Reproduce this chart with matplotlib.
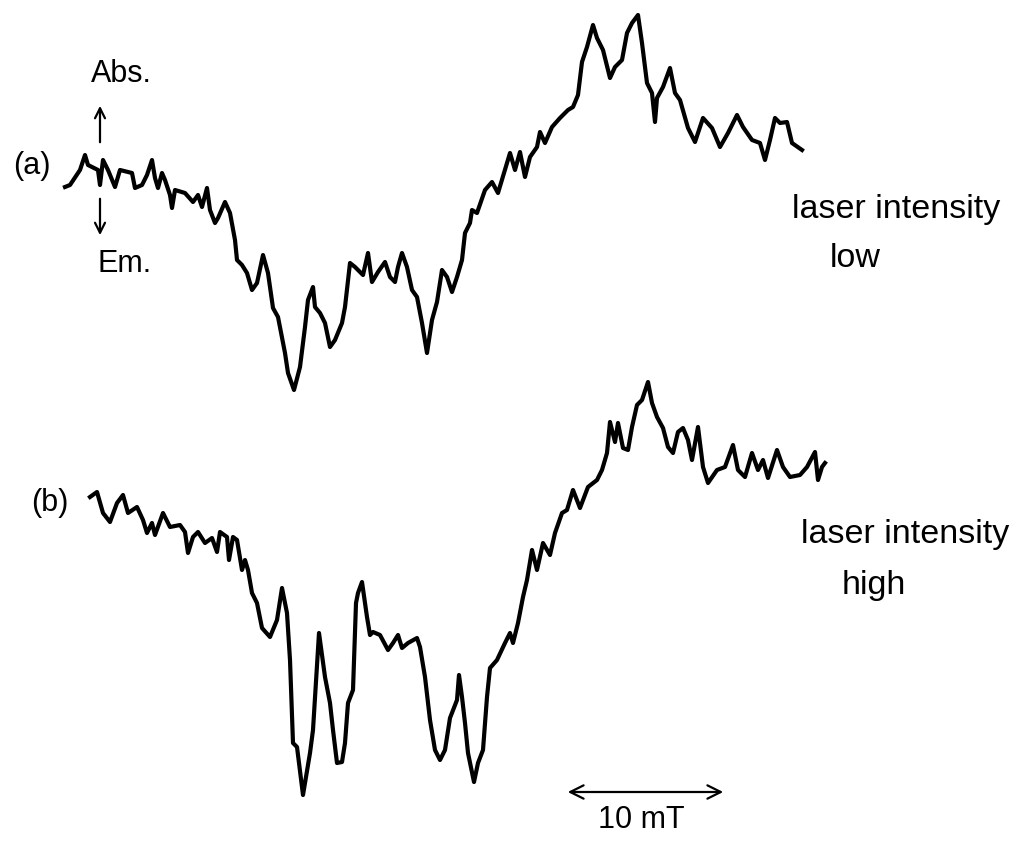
# Two EPR-like traces recorded at low and high laser intensity
# The traces are read off the scanned figure, so the axes use the picture's own
# pixel grid (x to the right, y downwards) and no frame is drawn.

import matplotlib
matplotlib.use("Agg")
import matplotlib.pyplot as plt

# trace (a): laser intensity low
trace_a_x = [65, 70, 80, 85, 88, 98, 100, 103, 108, 115, 120, 132, 135, 142, 147, 152, 155, 158,
             162, 165, 170, 172, 175, 185, 193, 198, 202, 207, 210, 215, 218, 225, 230, 235, 237,
             242, 247, 252, 257, 263, 268, 273, 278, 285, 288, 294, 300, 305, 308, 313, 315, 320,
             325, 330, 335, 342, 345, 350, 355, 363, 368, 372, 378, 385, 390, 395, 398, 402, 407,
             412, 417, 422, 427, 432, 437, 442, 447, 452, 457, 462, 465, 470, 472, 477, 485, 492,
             498, 510, 515, 520, 525, 530, 537, 540, 545, 552, 560, 568, 573, 578, 582, 587, 593,
             597, 603, 610, 615, 622, 627, 632, 638, 642, 647, 652, 655, 657, 663, 670, 675, 680,
             688, 695, 703, 712, 720, 728, 737, 743, 752, 760, 765, 770, 775, 780, 787, 792, 802]
trace_a_y = [187, 185, 170, 155, 165, 170, 185, 160, 170, 187, 170, 173, 188, 185, 175, 160, 178, 188,
             173, 180, 195, 208, 190, 193, 202, 195, 207, 188, 210, 223, 218, 202, 213, 240, 260,
             265, 273, 290, 283, 255, 273, 308, 317, 353, 373, 390, 367, 327, 300, 287, 307, 313,
             323, 347, 340, 323, 307, 263, 267, 275, 253, 282, 272, 262, 277, 282, 267, 253, 267,
             290, 297, 323, 353, 320, 302, 270, 277, 292, 277, 260, 233, 223, 210, 213, 190, 182,
             193, 153, 170, 152, 177, 157, 147, 132, 143, 127, 118, 110, 107, 95, 62, 47, 25,
             38, 50, 78, 67, 60, 33, 23, 15, 43, 83, 93, 122, 98, 87, 68, 93, 100,
             128, 142, 118, 128, 147, 133, 115, 127, 140, 143, 160, 140, 118, 123, 122, 143, 150]

# trace (b): laser intensity high
trace_b_x = [90, 97, 103, 110, 117, 123, 128, 137, 143, 147, 152, 155, 163, 170, 180, 185, 188, 193,
             198, 205, 212, 217, 220, 227, 229, 233, 237, 242, 245, 248, 252, 257, 262, 270, 277,
             282, 287, 290, 293, 297, 303, 310, 313, 319, 325, 330, 333, 337, 342, 345, 348, 353,
             356, 358, 362, 367, 370, 373, 380, 388, 393, 398, 402, 408, 417, 420, 425, 430, 435,
             440, 445, 450, 457, 459, 462, 465, 468, 474, 478, 483, 487, 490, 497, 505, 510, 513,
             518, 523, 527, 532, 537, 543, 550, 555, 562, 567, 573, 580, 588, 597, 602, 607, 610,
             615, 618, 623, 628, 632, 637, 642, 648, 652, 657, 663, 668, 673, 678, 683, 688, 692,
             698, 703, 708, 717, 725, 733, 738, 745, 752, 758, 763, 768, 777, 783, 790, 800, 807,
             815, 818, 822, 825]
trace_b_y = [497, 492, 513, 522, 503, 495, 513, 507, 520, 533, 523, 535, 513, 527, 525, 532, 553, 537,
             532, 543, 538, 552, 532, 537, 560, 537, 540, 570, 560, 570, 593, 603, 628, 637, 620,
             588, 613, 660, 743, 747, 795, 753, 730, 633, 677, 703, 730, 763, 762, 743, 703, 690,
             603, 593, 582, 617, 635, 632, 635, 650, 643, 635, 648, 643, 638, 647, 677, 720, 750,
             760, 750, 718, 700, 675, 697, 723, 753, 782, 763, 750, 697, 668, 660, 643, 633, 643,
             623, 597, 580, 550, 570, 543, 555, 533, 513, 510, 490, 508, 487, 480, 470, 453, 422,
             442, 423, 448, 450, 427, 405, 400, 382, 403, 417, 428, 447, 453, 432, 428, 440, 460,
             427, 467, 483, 470, 467, 445, 470, 477, 453, 470, 460, 478, 450, 467, 477, 475, 467,
             452, 480, 467, 463]

# text labels of the figure
trace_labels = ["(a)", "(b)"]
intensity_labels = ["laser intensity", "low", "laser intensity", "high"]
scale_label = "10 mT"

matplotlib.rcParams.update({'font.family': ['Liberation Sans', 'DejaVu Sans']})

fig = plt.figure(figsize=(10.22, 8.42), dpi=100)
ax = fig.add_axes([0, 0, 1, 1])
ax.set_xlim(0, 1022)
ax.set_ylim(842, 0)
ax.axis('off')

# the two traces (thick, like the pen of the recorder)
ax.plot(trace_a_x, trace_a_y, color='black', lw=3, solid_joinstyle='round')
ax.plot(trace_b_x, trace_b_y, color='black', lw=3, solid_joinstyle='round')

# trace names on the left
ax.text(32, 166, trace_labels[0], fontsize=22, ha='center', va='center')
ax.text(50, 503, trace_labels[1], fontsize=22, ha='center', va='center')

# absorption / emission arrows
ax.annotate('', xy=(100, 103), xytext=(100, 145),
            arrowprops=dict(arrowstyle='->', lw=1.6, color='black', mutation_scale=18))
ax.annotate('', xy=(100, 238), xytext=(100, 196),
            arrowprops=dict(arrowstyle='->', lw=1.6, color='black', mutation_scale=18))
ax.text(121, 74, "Abs.", fontsize=22, ha='center', va='center')
ax.text(125, 264, "Em.", fontsize=22, ha='center', va='center')

# laser intensity labels on the right
ax.text(792, 218, intensity_labels[0], fontsize=24.5, ha='left', va='baseline')
ax.text(830, 267, intensity_labels[1], fontsize=24.5, ha='left', va='baseline')
ax.text(801, 543, intensity_labels[2], fontsize=24.5, ha='left', va='baseline')
ax.text(842, 594, intensity_labels[3], fontsize=24.5, ha='left', va='baseline')

# field scale bar
ax.annotate('', xy=(565, 792), xytext=(726, 792),
            arrowprops=dict(arrowstyle='<->', lw=1.6, color='black', mutation_scale=24))
ax.text(641, 828, scale_label, fontsize=22, ha='center', va='baseline')

fig.savefig('out.png', dpi=100, facecolor='white')
